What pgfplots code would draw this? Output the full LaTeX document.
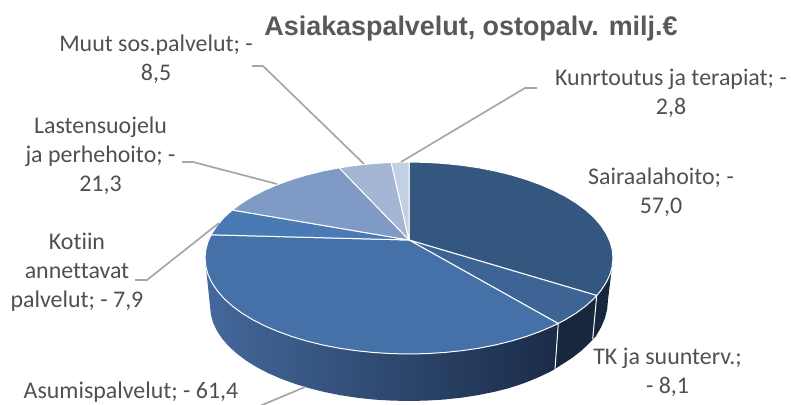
\documentclass[border=0pt]{standalone}
\usepackage{fontspec}
\setmainfont{Carlito}[Ligatures=NoCommon]
\newfontfamily\titlefont{Liberation Sans}
\usepackage{pgfplots}
\pgfplotsset{compat=1.18}
\definecolor{cSai}{HTML}{34577F}
\definecolor{cTK}{HTML}{3D6494}
\definecolor{cAsu}{HTML}{4671A8}
\definecolor{cKot}{HTML}{4A7AB5}
\definecolor{cLas}{HTML}{7F9AC4}
\definecolor{cMuu}{HTML}{A5B5D4}
\definecolor{cKun}{HTML}{C3CFE2}
\definecolor{wL}{HTML}{44699C}
\definecolor{wM}{HTML}{2D4C75}
\definecolor{wR}{HTML}{1A2B47}
\definecolor{wD}{HTML}{17273E}
\definecolor{lead}{HTML}{A6A6A6}
\definecolor{txt}{HTML}{505050}
\definecolor{ttl}{HTML}{595959}
\tikzset{lbl/.style={font=\fontsize{24}{29}\selectfont, text=txt, align=center, inner sep=0pt}}
\begin{document}
\begin{tikzpicture}
\begin{axis}[
  hide axis, scale only axis, width=791bp, height=405bp,
  xmin=0, xmax=791, ymin=0, ymax=405, y dir=reverse, clip=true,
  every axis plot/.append style={forget plot, mark=none, line join=round}
]
% side wall: Asumispalvelut
\addplot[draw=none, left color=wL, middle color=wM, right color=wR] coordinates {
(205,258)(205.8,266.4)(208.1,274.7)(212,282.8)(217.3,290.8)(224.1,298.6)(232.3,306)(241.9,313.1)(252.7,319.7)(264.8,325.9)(277.9,331.5)(292,336.6)(307,341.1)(322.8,345)(339.2,348.2)(356.2,350.7)(373.6,352.5)(391.2,353.6)(409,354)(426.8,353.6)(444.4,352.5)(461.8,350.7)(478.8,348.2)(495.2,345)(511,341.1)(526,336.6)(540.1,331.5)(553.2,325.9)(558.2,323.5)
(555,369)(549.7,372)(536.9,378)(523.1,383.5)(508.5,388.3)(493.1,392.1)(477,395.3)(460.5,397.8)(443.5,399.6)(426.4,400.6)(409,401)(391.6,400.6)(374.5,399.6)(357.5,397.8)(341,395.3)(324.9,392.1)(309.5,388.3)(294.9,383.8)(281.1,378.8)(268.3,373.2)(256.6,367.1)(246,360.5)(236.7,353.5)(228.6,346.1)(222,338.5)(216.8,330.6)(213,322.5)(210.8,314.3)(210,306)
} -- cycle;
% side wall: TK ja suunterv.
\addplot[draw=none, fill=wD] coordinates {
(558.2,323.5)(565.3,319.7)(576.1,313.1)(585.7,306)(593.9,298.6)(596.8,295.5)
(592.7,339.5)(589,343.5)(581,351)(572,358)(561.4,364.8)(555,369)
} -- cycle;
% side wall: Sairaalahoito
\addplot[draw=none, fill=wD] coordinates {
(596.8,295.5)(600.7,290.8)(606,282.8)(609.9,274.7)(612.2,266.4)(613,258)
(608,300)(607.2,309)(605,318)(601.2,327)(596,336)(592.7,339.5)
} -- cycle;
% wall separators
\addplot[white, line width=1pt] coordinates {(558.3,323.3)(555,369.3)};
\addplot[white, line width=1pt] coordinates {(596.7,295.7)(592.7,339)};
% top surface
\addplot[white, line width=1pt, fill=cSai] coordinates {
(409,240)(409,162)(426.8,162.4)(444.4,163.5)(461.8,165.3)(478.8,167.8)(495.2,171)(511,174.9)(526,179.4)(540.1,184.5)(553.2,190.1)(565.3,196.3)(576.1,202.9)(585.7,210)(593.9,217.4)(600.7,225.2)(606,233.2)(609.9,241.3)(612.2,249.6)(613,258)(612.2,266.4)(609.9,274.7)(606,282.8)(600.7,290.8)(596.8,295.5)
} -- cycle;
\addplot[white, line width=1pt, fill=cTK] coordinates {
(409,240)(596.8,295.5)(593.9,298.6)(585.7,306)(576.1,313.1)(565.3,319.7)(558.2,323.5)
} -- cycle;
\addplot[white, line width=1pt, fill=cAsu] coordinates {
(409,240)(558.2,323.5)(553.2,325.9)(540.1,331.5)(526,336.6)(511,341.1)(495.2,345)(478.8,348.2)(461.8,350.7)(444.4,352.5)(426.8,353.6)(409,354)(391.2,353.6)(373.6,352.5)(356.2,350.7)(339.2,348.2)(322.8,345)(307,341.1)(292,336.6)(277.9,331.5)(264.8,325.9)(252.7,319.7)(241.9,313.1)(232.3,306)(224.1,298.6)(217.3,290.8)(212,282.8)(208.1,274.7)(205.8,266.4)(205,258)(205.8,249.6)(208.1,241.3)(211.1,234.8)
} -- cycle;
\addplot[white, line width=1pt, fill=cKot] coordinates {
(409,240)(211.1,234.8)(212,233.2)(217.3,225.2)(224.1,217.4)(232.3,210)
} -- cycle;
\addplot[white, line width=1pt, fill=cLas] coordinates {
(409,240)(232.3,210)(241.9,202.9)(252.7,196.3)(264.8,190.1)(277.9,184.5)(292,179.4)(307,174.9)(322.8,171)(339.2,167.8)
} -- cycle;
\addplot[white, line width=1pt, fill=cMuu] coordinates {
(409,240)(339.2,167.8)(356.2,165.3)(373.6,163.5)(391.2,162.4)
} -- cycle;
\addplot[white, line width=1pt, fill=cKun] coordinates {
(409,240)(391.2,162.4)(409,162)
} -- cycle;
% leader lines
\addplot[lead, line width=1.7pt] coordinates {(252,66)(263,66)(364,164)};
\addplot[lead, line width=1.7pt] coordinates {(182,162)(193,162)(277,184)};
\addplot[lead, line width=1.7pt] coordinates {(537,88)(525,88)(401,162)};
\addplot[lead, line width=1.7pt] coordinates {(135,280)(147,280)(219,223)};
\addplot[lead, line width=1.7pt] coordinates {(305,387)(255,408)};
% labels
\node[text=ttl, inner sep=0pt, font=\titlefont\bfseries\fontsize{27}{30}\selectfont] at (axis cs:471,29) {Asiakaspalvelut, ostopalv. milj.€};
\node[lbl] at (axis cs:156,59.5) {Muut sos.palvelut; -\\8,5};
\node[lbl] at (axis cs:100.5,155.5) {Lastensuojelu\\ja perhehoito; -\\21,3};
\node[lbl] at (axis cs:671,93) {Kunrtoutus ja terapiat; -\\2,8};
\node[lbl] at (axis cs:661,192) {Sairaalahoito; -\\57,0};
\node[lbl] at (axis cs:667.5,372.5) {TK ja suunterv.;\\- 8,1};
\node[lbl] at (axis cs:77,272.5) {Kotiin\\annettavat\\palvelut; - 7,9};
\node[lbl] at (axis cs:131,392.5) {Asumispalvelut; - 61,4};
\end{axis}
\pgfresetboundingbox
\path[use as bounding box] (0,0) rectangle (791bp,405bp);
\end{tikzpicture}
\end{document}
